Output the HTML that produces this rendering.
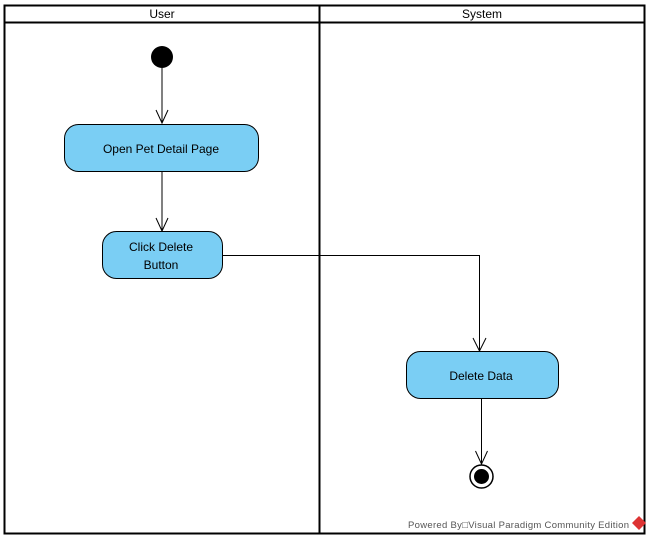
<!DOCTYPE html>
<html><head><meta charset="utf-8"><style>body{margin:0;background:#fff}svg{display:block}</style></head>
<body>
<svg width="652" height="541" xmlns="http://www.w3.org/2000/svg" font-family="Liberation Sans, sans-serif">
<rect x="0" y="0" width="652" height="541" fill="#fff"/>
<rect x="4.5" y="5.5" width="640" height="528" fill="none" stroke="#000" stroke-width="2"/>
<line x1="4" y1="22.5" x2="645" y2="22.5" stroke="#000" stroke-width="2"/>
<line x1="319.5" y1="5" x2="319.5" y2="534" stroke="#000" stroke-width="2"/>
<text x="162" y="18" font-size="12" text-anchor="middle">User</text>
<text x="482" y="18" font-size="12" text-anchor="middle">System</text>
<circle cx="162" cy="57" r="11" fill="#000"/>
<line x1="162" y1="68" x2="162" y2="123" stroke="#000"/>
<path d="M156 110 L162 123 L168 110" fill="none" stroke="#000"/>
<rect x="64.5" y="124.5" width="194" height="47" rx="14" fill="#7acef4" stroke="#000"/>
<text x="161" y="153" font-size="12" text-anchor="middle">Open Pet Detail Page</text>
<line x1="162" y1="172" x2="162" y2="231" stroke="#000"/>
<path d="M156 218 L162 231 L168 218" fill="none" stroke="#000"/>
<rect x="102.5" y="231.5" width="120" height="47" rx="14" fill="#7acef4" stroke="#000"/>
<text x="161" y="251" font-size="12" text-anchor="middle">Click Delete</text>
<text x="161" y="269" font-size="12" text-anchor="middle">Button</text>
<path d="M223 255.5 H479.5 V351" fill="none" stroke="#000"/>
<path d="M473 338 L479.5 351 L486 338" fill="none" stroke="#000"/>
<rect x="406.5" y="351.5" width="152" height="47" rx="14" fill="#7acef4" stroke="#000"/>
<text x="481" y="380" font-size="12" text-anchor="middle">Delete Data</text>
<line x1="481.5" y1="399" x2="481.5" y2="464" stroke="#000"/>
<path d="M475.5 451 L481.5 464 L487.5 451" fill="none" stroke="#000"/>
<circle cx="481.5" cy="476.5" r="11.5" fill="#fff" stroke="#000" stroke-width="1.5"/>
<circle cx="481.5" cy="476.5" r="7.5" fill="#000"/>
<text x="408" y="528" font-size="9.5" fill="#555" textLength="221" lengthAdjust="spacing">Powered By□Visual Paradigm Community Edition</text>
<path d="M639 516 L646 523 L639 530 L632 523 Z" fill="#d33"/>
</svg>
</body></html>
